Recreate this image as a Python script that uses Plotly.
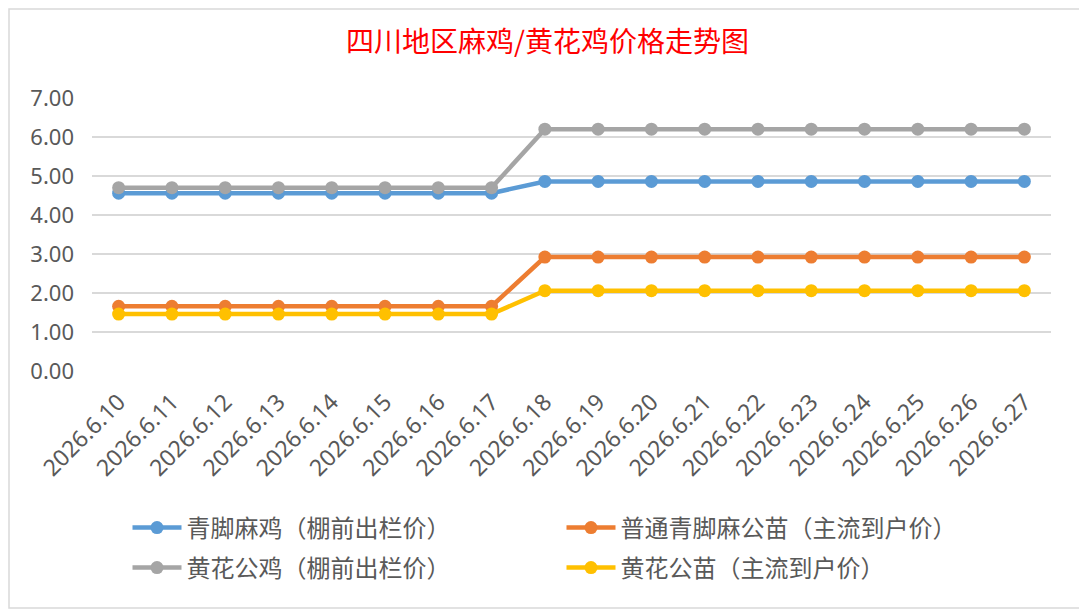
import plotly.graph_objects as go

dates = ["2026.6.10", "2026.6.11", "2026.6.12", "2026.6.13", "2026.6.14", "2026.6.15",
         "2026.6.16", "2026.6.17", "2026.6.18", "2026.6.19", "2026.6.20", "2026.6.21",
         "2026.6.22", "2026.6.23", "2026.6.24", "2026.6.25", "2026.6.26", "2026.6.27"]

qingjiao_maji = [4.56] * 8 + [4.86] * 10
putong_gongmiao = [1.66] * 8 + [2.92] * 10
huanghua_gongji = [4.70] * 8 + [6.20] * 10
huanghua_gongmiao = [1.46] * 8 + [2.06] * 10

series_names = ["青脚麻鸡（棚前出栏价）", "普通青脚麻公苗（主流到户价）",
                "黄花公鸡（棚前出栏价）", "黄花公苗（主流到户价）"]
series_values = [qingjiao_maji, putong_gongmiao, huanghua_gongji, huanghua_gongmiao]
colors = ["#5B9BD5", "#ED7D31", "#A5A5A5", "#FFC000"]
legend_ids = ["legend", "legend", "legend2", "legend2"]

y_ticks = [0, 1, 2, 3, 4, 5, 6, 7]
y_ticktext = ["%.2f" % v for v in y_ticks]

fig = go.Figure()
for name, vals, col, lg in zip(series_names, series_values, colors, legend_ids):
    fig.add_trace(go.Scatter(
        x=dates, y=vals, name=name, mode="lines+markers",
        line=dict(color=col, width=4.5),
        marker=dict(color=col, size=13),
        legend=lg
    ))

# the page body adds an 8px offset, so the figure is 8px smaller than the window
W, H = 1079, 605
ml, mr, mt, mb = 84, 36, 90, 242
pw, ph = W - ml - mr, H - mt - mb
bottom = H - mb

fig.add_shape(type="rect", xref="paper", yref="paper",
              x0=(1 - ml) / pw, x1=(1074 - ml) / pw,
              y0=(bottom - 600) / ph, y1=(bottom - 1) / ph,
              line=dict(color="#D9D9D9", width=1.5), layer="below")

legend_common = dict(
    orientation="h", xanchor="left", yanchor="middle",
    entrywidth=370, entrywidthmode="pixels", itemwidth=49,
    font=dict(family="Noto Sans CJK SC", size=24, color="#595959"),
    bgcolor="rgba(0,0,0,0)", itemclick=False
)

fig.update_layout(
    width=W, height=H,
    margin=dict(l=ml, r=mr, t=mt, b=mb, autoexpand=False),
    paper_bgcolor="white", plot_bgcolor="white",
    title=dict(text="四川地区麻鸡/黄花鸡价格走势图", x=0.5, xanchor="center",
               y=(H - 34) / H, yanchor="middle",
               font=dict(family="Noto Sans CJK SC", size=28, color="#FF0000")),
    xaxis=dict(type="category", range=[-0.5, len(dates) - 0.5], tickangle=-45,
               showgrid=False, showline=False,
               tickfont=dict(family="Noto Sans", size=23, color="#595959"),
               ticks="", ticklabelstandoff=12),
    yaxis=dict(range=[0, 7], tickvals=y_ticks, ticktext=y_ticktext,
               showgrid=True, gridcolor="#D9D9D9", gridwidth=1.5,
               zeroline=False, showline=False, ticks="",
               ticklabelstandoff=17,
               tickfont=dict(family="Noto Sans", size=22, color="#595959")),
    legend=dict(legend_common, x=(119.5 - ml) / pw, y=(bottom - 520) / ph),
    legend2=dict(legend_common, x=(119.5 - ml) / pw, y=(bottom - 560) / ph),
)

fig.write_html("out.html")
